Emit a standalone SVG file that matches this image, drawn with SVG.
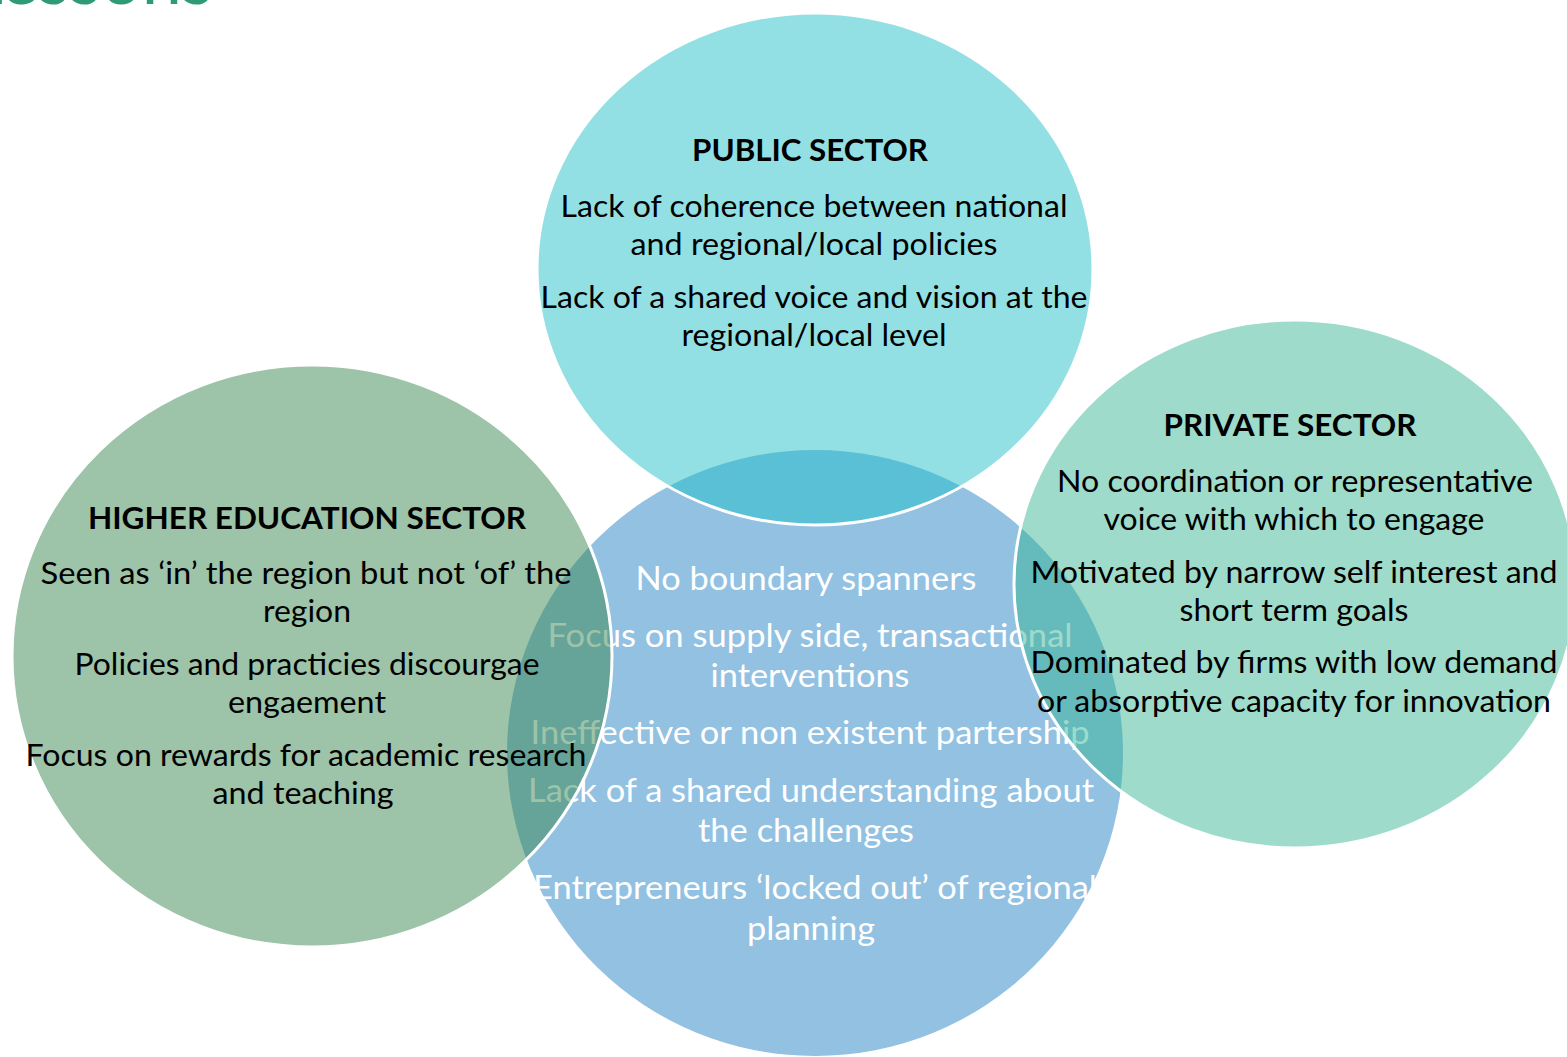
<svg xmlns="http://www.w3.org/2000/svg" width="1567" height="1057" viewBox="0 0 1567 1057">
<style>
.t{font-family:Lato,"Open Sans","Liberation Sans",sans-serif;font-size:30px;fill:#000;text-anchor:middle}
.h{font-weight:bold;font-size:31px}
.w{fill:#fff;font-size:32px}
.ring{stroke:#fff;stroke-width:3}
</style>
<rect width="1567" height="1057" fill="#fff"/>
<text x="213" y="4" font-family="Lato,'Open Sans',sans-serif" font-size="72" fill="#2E9A78" text-anchor="end">Lessons</text>
<g id="node-center">
<ellipse cx="815" cy="753" rx="308" ry="303" fill="#93C1E2"/>
<text class="t w" x="806" y="590" textLength="341" lengthAdjust="spacingAndGlyphs">No boundary spanners</text>
<text class="t w" x="810" y="647" textLength="525" lengthAdjust="spacingAndGlyphs">Focus on supply side, transactional</text>
<text class="t w" x="810" y="687" textLength="199" lengthAdjust="spacingAndGlyphs">interventions</text>
<text class="t w" x="810" y="744" textLength="559" lengthAdjust="spacingAndGlyphs">Ineffective or non existent partership</text>
<text class="t w" x="811" y="802" textLength="566" lengthAdjust="spacingAndGlyphs">Lack of a shared understanding about</text>
<text class="t w" x="806" y="842" textLength="216" lengthAdjust="spacingAndGlyphs">the challenges</text>
<text class="t w" x="815" y="899" textLength="564" lengthAdjust="spacingAndGlyphs">Entrepreneurs ‘locked out’ of regional</text>
<text class="t w" x="811" y="940" textLength="128" lengthAdjust="spacingAndGlyphs">planning</text>
</g>
<g id="node-public">
<ellipse class="ring" cx="815" cy="269" rx="278" ry="256" fill="rgb(30,190,199)" fill-opacity="0.48"/>
<text class="t h" x="810" y="161" textLength="236" lengthAdjust="spacingAndGlyphs">PUBLIC SECTOR</text>
<text class="t" x="814" y="217" textLength="507" lengthAdjust="spacingAndGlyphs">Lack of coherence between national</text>
<text class="t" x="814" y="255" textLength="367" lengthAdjust="spacingAndGlyphs">and regional/local policies</text>
<text class="t" x="814" y="308" textLength="547" lengthAdjust="spacingAndGlyphs">Lack of a shared voice and vision at the</text>
<text class="t" x="814" y="346" textLength="265" lengthAdjust="spacingAndGlyphs">regional/local level</text>
</g>
<g id="node-higher-education">
<ellipse class="ring" cx="312" cy="656" rx="300" ry="291" fill="rgb(55,133,78)" fill-opacity="0.49"/>
<text class="t h" x="307" y="529" textLength="438" lengthAdjust="spacingAndGlyphs">HIGHER EDUCATION SECTOR</text>
<text class="t" x="306" y="584" textLength="531" lengthAdjust="spacingAndGlyphs">Seen as ‘in’ the region but not ‘of’ the</text>
<text class="t" x="307" y="622" textLength="88" lengthAdjust="spacingAndGlyphs">region</text>
<text class="t" x="307" y="675" textLength="465" lengthAdjust="spacingAndGlyphs">Policies and practicies discourgae</text>
<text class="t" x="307" y="713" textLength="158" lengthAdjust="spacingAndGlyphs">engaement</text>
<text class="t" x="306" y="766" textLength="561" lengthAdjust="spacingAndGlyphs">Focus on rewards for academic research</text>
<text class="t" x="303" y="804" textLength="181" lengthAdjust="spacingAndGlyphs">and teaching</text>
</g>
<g id="node-private">
<ellipse class="ring" cx="1295" cy="584" rx="281" ry="264" fill="rgb(53,180,145)" fill-opacity="0.48"/>
<text class="t h" x="1290" y="436" textLength="253" lengthAdjust="spacingAndGlyphs">PRIVATE SECTOR</text>
<text class="t" x="1295" y="492" textLength="476" lengthAdjust="spacingAndGlyphs">No coordination or representative</text>
<text class="t" x="1294" y="530" textLength="381" lengthAdjust="spacingAndGlyphs">voice with which to engage</text>
<text class="t" x="1294" y="583" textLength="527" lengthAdjust="spacingAndGlyphs">Motivated by narrow self interest and</text>
<text class="t" x="1294" y="621" textLength="229" lengthAdjust="spacingAndGlyphs">short term goals</text>
<text class="t" x="1294" y="673" textLength="527" lengthAdjust="spacingAndGlyphs">Dominated by firms with low demand</text>
<text class="t" x="1294" y="712" textLength="514" lengthAdjust="spacingAndGlyphs">or absorptive capacity for innovation</text>
</g>
<g id="connectors"></g>
</svg>
